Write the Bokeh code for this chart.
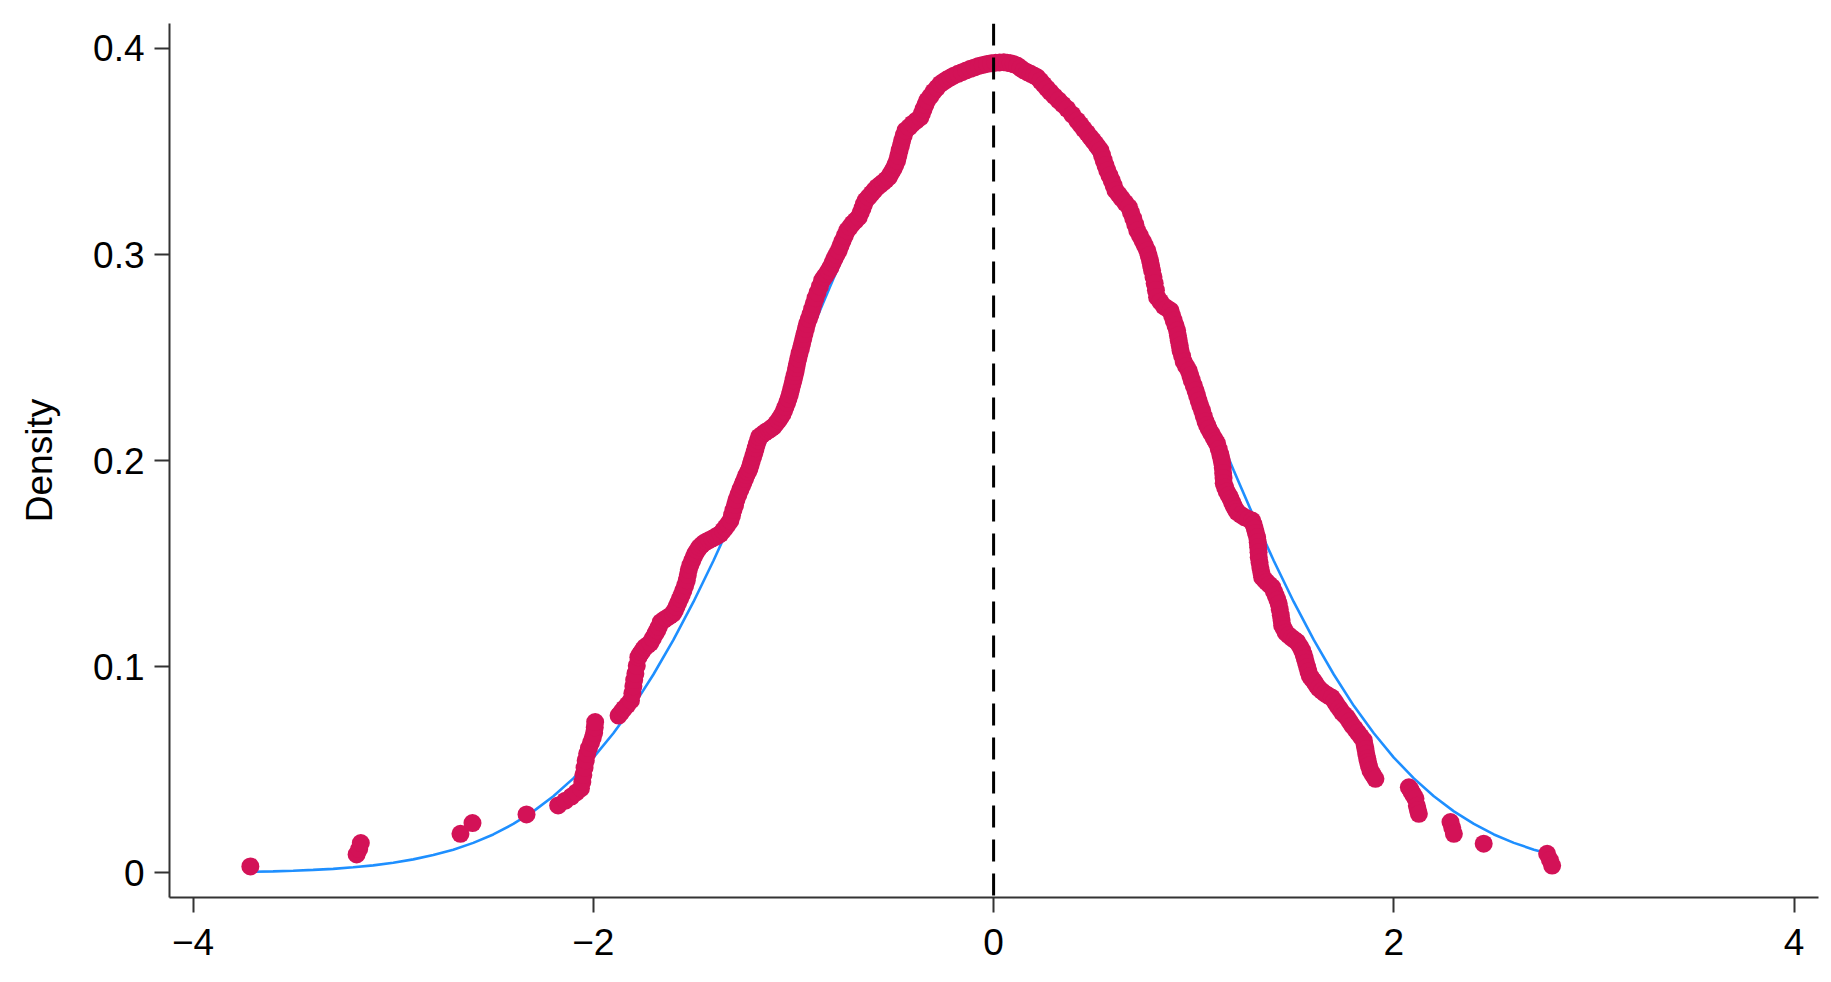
from bokeh.plotting import figure
from bokeh.models import FixedTicker, Span
from bokeh.embed import file_html
from bokeh.resources import INLINE

# ---- data ----
# kernel-density values drawn as dots (x, density)
kde_x = [
    -3.714, -3.183, -3.170, -3.162, -2.664, -2.604, -2.334, -2.176, -2.140, -2.110,
    -2.085, -2.062, -2.055, -2.050, -2.044, -2.038, -2.031, -2.022, -2.012, -2.003,
    -1.996, -1.993, -1.991, -1.874, -1.860, -1.847, -1.830, -1.812, -1.805, -1.800,
    -1.796, -1.790, -1.783,
    -1.775, -1.768, -1.760, -1.751, -1.742, -1.728, -1.715, -1.703, -1.690, -1.681,
    -1.673, -1.663, -1.649, -1.635, -1.618, -1.602, -1.593, -1.585, -1.576, -1.567,
    -1.558, -1.550, -1.541, -1.533, -1.528, -1.523, -1.515, -1.506, -1.498, -1.490,
    -1.480, -1.470, -1.459, -1.448, -1.434, -1.420, -1.405, -1.390, -1.378, -1.365,
    -1.352, -1.340, -1.327, -1.315, -1.307, -1.300, -1.292, -1.285, -1.275, -1.265,
    -1.257, -1.250, -1.242, -1.235, -1.227, -1.220, -1.214, -1.208, -1.201, -1.195,
    -1.189, -1.183, -1.177, -1.172, -1.158, -1.145, -1.132, -1.120, -1.110, -1.099,
    -1.087, -1.075, -1.065, -1.055, -1.047, -1.040, -1.032, -1.025, -1.018, -1.012,
    -1.006, -1.000, -0.995, -0.990, -0.986, -0.982, -0.976, -0.970, -0.963, -0.957,
    -0.951, -0.945, -0.938, -0.932, -0.923, -0.915, -0.907, -0.899, -0.890, -0.880,
    -0.868, -0.857, -0.846, -0.835, -0.825, -0.815, -0.805, -0.795, -0.785, -0.774,
    -0.765, -0.755, -0.744, -0.732, -0.718, -0.705, -0.690, -0.674, -0.664, -0.655,
    -0.648, -0.640, -0.625, -0.610, -0.596, -0.582, -0.567, -0.552, -0.538, -0.524,
    -0.512, -0.500, -0.491, -0.482, -0.476, -0.470, -0.463, -0.457, -0.449, -0.440,
    -0.422, -0.405, -0.386, -0.366, -0.358, -0.350, -0.341, -0.332, -0.316, -0.300,
    -0.283, -0.266, -0.249, -0.232, -0.215, -0.199, -0.178, -0.158, -0.137, -0.116,
    -0.095, -0.075, -0.054, -0.033, -0.012, 0.010, 0.030, 0.051, 0.068, 0.085,
    0.101, 0.118, 0.135, 0.151, 0.168, 0.185, 0.201, 0.218, 0.234, 0.250,
    0.267, 0.284, 0.304, 0.325, 0.346, 0.368, 0.393, 0.418, 0.434, 0.450,
    0.467, 0.484, 0.497, 0.510, 0.522, 0.534, 0.542, 0.550, 0.559, 0.568,
    0.579, 0.590, 0.600, 0.609, 0.625, 0.640, 0.658, 0.676, 0.687, 0.698,
    0.708, 0.718, 0.732, 0.745, 0.757, 0.768, 0.775, 0.782, 0.787, 0.792,
    0.799, 0.805, 0.811, 0.817, 0.833, 0.850, 0.867, 0.884, 0.892, 0.900,
    0.909, 0.917, 0.921, 0.925, 0.930, 0.934, 0.942, 0.950, 0.962, 0.975,
    0.983, 0.990, 1.000, 1.009, 1.017, 1.025, 1.033, 1.042, 1.050, 1.059,
    1.067, 1.075, 1.088, 1.100, 1.109, 1.117, 1.125, 1.133, 1.138, 1.142,
    1.145, 1.147, 1.149, 1.150, 1.157, 1.165, 1.175, 1.184, 1.192, 1.200,
    1.208, 1.217, 1.236, 1.255, 1.273, 1.292, 1.299, 1.305, 1.311, 1.317,
    1.320, 1.322, 1.324, 1.325, 1.329, 1.333, 1.338, 1.342, 1.353, 1.365,
    1.378, 1.392, 1.401, 1.410, 1.418, 1.425, 1.430, 1.435, 1.439, 1.442,
    1.451, 1.460, 1.475, 1.490, 1.504, 1.517, 1.530, 1.542, 1.549, 1.555,
    1.561, 1.567, 1.573, 1.580, 1.590, 1.600, 1.612, 1.625, 1.640, 1.655,
    1.672, 1.690, 1.703, 1.715, 1.728, 1.740, 1.752, 1.765, 1.779, 1.792,
    1.806, 1.820, 1.835, 1.850, 1.854, 1.858, 1.862, 1.867, 1.871, 1.875,
    1.883, 1.895, 1.908, 2.075, 2.083, 2.090, 2.099, 2.108, 2.115, 2.120,
    2.125, 2.283, 2.292, 2.300, 2.449, 2.766, 2.780, 2.791]
kde_y = [
    0.0031, 0.0089, 0.0115, 0.0144, 0.0189, 0.0241, 0.0283, 0.0327, 0.0350, 0.0370,
    0.0390, 0.0410, 0.0440, 0.0475, 0.0510, 0.0545, 0.0577, 0.0605, 0.0630, 0.0655,
    0.0680, 0.0705, 0.0731, 0.0763, 0.0780, 0.0796, 0.0815, 0.0836, 0.0870, 0.0905,
    0.0935, 0.0966, 0.1005,
    0.1046, 0.1058, 0.1070, 0.1083, 0.1095, 0.1105, 0.1115, 0.1137, 0.1160, 0.1176,
    0.1192, 0.1216, 0.1226, 0.1235, 0.1246, 0.1257, 0.1273, 0.1290, 0.1310, 0.1330,
    0.1350, 0.1370, 0.1395, 0.1420, 0.1445, 0.1470, 0.1493, 0.1515, 0.1533, 0.1550,
    0.1565, 0.1580, 0.1590, 0.1600, 0.1608, 0.1615, 0.1622, 0.1630, 0.1637, 0.1645,
    0.1660, 0.1675, 0.1692, 0.1709, 0.1735, 0.1760, 0.1785, 0.1810, 0.1835, 0.1860,
    0.1878, 0.1895, 0.1913, 0.1930, 0.1945, 0.1960, 0.1980, 0.2000, 0.2020, 0.2040,
    0.2060, 0.2080, 0.2098, 0.2115, 0.2125, 0.2135, 0.2143, 0.2150, 0.2158, 0.2165,
    0.2180, 0.2195, 0.2210, 0.2225, 0.2243, 0.2260, 0.2280, 0.2300, 0.2322, 0.2345,
    0.2368, 0.2390, 0.2410, 0.2430, 0.2450, 0.2470, 0.2495, 0.2520, 0.2543, 0.2567,
    0.2591, 0.2615, 0.2640, 0.2664, 0.2687, 0.2710, 0.2735, 0.2761, 0.2788, 0.2815,
    0.2845, 0.2874, 0.2890, 0.2905, 0.2921, 0.2938, 0.2959, 0.2980, 0.3000, 0.3019,
    0.3042, 0.3065, 0.3090, 0.3116, 0.3133, 0.3150, 0.3165, 0.3181, 0.3203, 0.3225,
    0.3244, 0.3262, 0.3278, 0.3295, 0.3311, 0.3327, 0.3338, 0.3350, 0.3362, 0.3375,
    0.3395, 0.3415, 0.3435, 0.3456, 0.3480, 0.3505, 0.3529, 0.3553, 0.3578, 0.3602,
    0.3618, 0.3635, 0.3650, 0.3666, 0.3685, 0.3705, 0.3726, 0.3747, 0.3768, 0.3790,
    0.3809, 0.3828, 0.3839, 0.3850, 0.3859, 0.3868, 0.3877, 0.3885, 0.3893, 0.3901,
    0.3908, 0.3915, 0.3920, 0.3925, 0.3928, 0.3931, 0.3932, 0.3933, 0.3931, 0.3928,
    0.3923, 0.3917, 0.3905, 0.3893, 0.3885, 0.3877, 0.3869, 0.3860, 0.3843, 0.3825,
    0.3806, 0.3788, 0.3768, 0.3748, 0.3728, 0.3707, 0.3679, 0.3650, 0.3630, 0.3610,
    0.3590, 0.3569, 0.3553, 0.3537, 0.3521, 0.3505, 0.3482, 0.3458, 0.3433, 0.3408,
    0.3384, 0.3360, 0.3335, 0.3311, 0.3292, 0.3272, 0.3251, 0.3230, 0.3203, 0.3175,
    0.3146, 0.3116, 0.3090, 0.3065, 0.3042, 0.3019, 0.2995, 0.2970, 0.2946, 0.2922,
    0.2891, 0.2860, 0.2827, 0.2793, 0.2771, 0.2750, 0.2739, 0.2728, 0.2704, 0.2680,
    0.2655, 0.2631, 0.2607, 0.2583, 0.2558, 0.2534, 0.2507, 0.2480, 0.2458, 0.2437,
    0.2413, 0.2390, 0.2365, 0.2340, 0.2315, 0.2290, 0.2266, 0.2243, 0.2216, 0.2190,
    0.2172, 0.2154, 0.2132, 0.2110, 0.2096, 0.2082, 0.2056, 0.2030, 0.2010, 0.1990,
    0.1965, 0.1940, 0.1915, 0.1890, 0.1870, 0.1850, 0.1832, 0.1815, 0.1797, 0.1780,
    0.1765, 0.1750, 0.1737, 0.1725, 0.1717, 0.1709, 0.1690, 0.1670, 0.1649, 0.1628,
    0.1604, 0.1580, 0.1555, 0.1531, 0.1505, 0.1480, 0.1457, 0.1434, 0.1422, 0.1410,
    0.1398, 0.1386, 0.1365, 0.1345, 0.1325, 0.1305, 0.1278, 0.1250, 0.1225, 0.1200,
    0.1183, 0.1165, 0.1152, 0.1140, 0.1130, 0.1120, 0.1100, 0.1079, 0.1060, 0.1040,
    0.1019, 0.0998, 0.0977, 0.0955, 0.0942, 0.0930, 0.0912, 0.0895, 0.0882, 0.0870,
    0.0860, 0.0850, 0.0833, 0.0815, 0.0798, 0.0780, 0.0768, 0.0755, 0.0735, 0.0715,
    0.0698, 0.0680, 0.0661, 0.0642, 0.0621, 0.0600, 0.0578, 0.0555, 0.0538, 0.0520,
    0.0496, 0.0476, 0.0456, 0.0415, 0.0403, 0.0390, 0.0375, 0.0360, 0.0325, 0.0305,
    0.0286, 0.0246, 0.0218, 0.0189, 0.0141, 0.0092, 0.0062, 0.0035]

# fitted normal density drawn as a line
normal_x = [-3.71, -3.6, -3.5, -3.4, -3.3, -3.2, -3.1, -3.0, -2.9, -2.8, -2.7, -2.6, -2.5,
            -2.4, -2.3, -2.2, -2.1, -2.0, -1.9, -1.8, -1.7, -1.6, -1.5, -1.4, -1.3, -1.2,
            -1.1, -1.0, -0.9, -0.8, -0.7, -0.6, -0.5, -0.4, -0.3, -0.2, -0.1, 0.0, 0.1,
            0.2, 0.3, 0.4, 0.5, 0.6, 0.7, 0.8, 0.9, 1.0, 1.1, 1.2, 1.3, 1.4, 1.5, 1.6,
            1.7, 1.8, 1.9, 2.0, 2.1, 2.2, 2.3, 2.4, 2.5, 2.6, 2.7, 2.77]
normal_y = [0.0005, 0.0007, 0.0010, 0.0014, 0.0019, 0.0027, 0.0036, 0.0049, 0.0065, 0.0086,
            0.0112, 0.0145, 0.0186, 0.0237, 0.0298, 0.0371, 0.0458, 0.0559, 0.0677, 0.0810,
            0.0962, 0.1130, 0.1314, 0.1514, 0.1727, 0.1952, 0.2184, 0.2420, 0.2654, 0.2884,
            0.3103, 0.3307, 0.3489, 0.3646, 0.3773, 0.3866, 0.3923, 0.3942, 0.3923, 0.3866,
            0.3773, 0.3646, 0.3489, 0.3307, 0.3103, 0.2884, 0.2654, 0.2420, 0.2184, 0.1952,
            0.1727, 0.1514, 0.1314, 0.1130, 0.0962, 0.0810, 0.0677, 0.0559, 0.0458, 0.0371,
            0.0298, 0.0237, 0.0186, 0.0145, 0.0112, 0.0093]

x_ticks = [-4, -2, 0, 2, 4]
x_tick_labels = ["\u22124", "\u22122", "0", "2", "4"]
y_ticks = [0, 0.1, 0.2, 0.3, 0.4]
y_tick_labels = ["0", "0.1", "0.2", "0.3", "0.4"]
ref_line_x = 0
y_label = "Density"

# ---- styling ----
FONT = "Liberation Sans"
RED = "#d31257"
BLUE = "#1e8fff"
AXIS_COLOR = "#333333"

p = figure(frame_width=1649, frame_height=874,
           x_range=(-4.118, 4.122), y_range=(-0.012, 0.4121),
           output_backend="svg", toolbar_location=None,
           min_border_left=169, min_border_right=5,
           min_border_top=23, min_border_bottom=72)
p.background_fill_color = "white"
p.border_fill_color = "white"
p.outline_line_color = None
p.grid.visible = False

p.line(normal_x, normal_y, line_color=BLUE, line_width=2.6)
p.scatter(kde_x, kde_y, size=18, marker="circle", fill_color=RED, line_color=None)

p.add_layout(Span(location=ref_line_x, dimension="height", line_color="black",
                  line_width=3, line_dash="22 12"))

for ax in (p.xaxis[0], p.yaxis[0]):
    ax.axis_line_color = AXIS_COLOR
    ax.axis_line_width = 2
    ax.major_tick_line_color = AXIS_COLOR
    ax.major_tick_line_width = 2
    ax.major_tick_out = 15
    ax.major_tick_in = 0
    ax.minor_tick_line_color = None
    ax.major_label_text_font = FONT
    ax.major_label_text_font_size = "37px"
    ax.major_label_text_color = "black"

p.xaxis.major_label_standoff = 16
p.yaxis.major_label_standoff = 10

p.xaxis.ticker = FixedTicker(ticks=x_ticks)
p.xaxis.major_label_overrides = {t: l for t, l in zip(x_ticks, x_tick_labels)}
p.yaxis.ticker = FixedTicker(ticks=y_ticks)
p.yaxis.major_label_overrides = {t: l for t, l in zip(y_ticks, y_tick_labels)}

p.yaxis.axis_label = y_label
p.yaxis.axis_label_text_font = FONT
p.yaxis.axis_label_text_font_size = "37px"
p.yaxis.axis_label_text_font_style = "normal"
p.yaxis.axis_label_text_color = "black"
p.yaxis.axis_label_standoff = 30

open("out.html", "w").write(file_html(p, INLINE))
